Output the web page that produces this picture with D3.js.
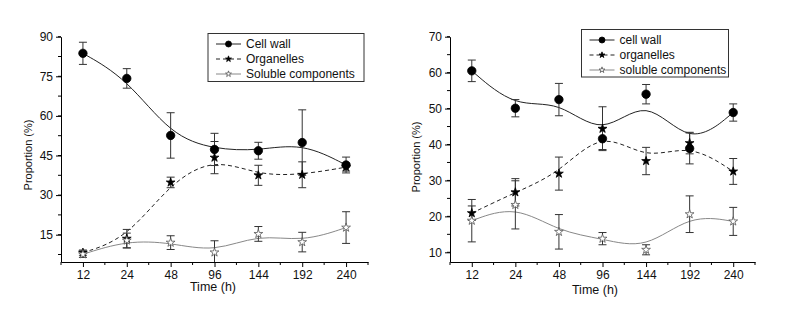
<!DOCTYPE html>
<html>
<head>
<meta charset="utf-8">
<script src="https://cdn.jsdelivr.net/npm/d3@7"></script>
<style>
  body { margin: 0; background: #fff; }
  text { font-family: "Liberation Sans", Arial, sans-serif; fill: #111; }
</style>
</head>
<body>
<div class="container"></div>
<script>
// Time points (categorical x axis)
const times = ["12", "24", "48", "96", "144", "192", "240"];

// Left panel
const leftCellWall     = [83.7, 74.2, 52.6, 47.3, 46.8, 49.9, 41.4];
const leftCellWallErr  = [4.2, 3.7, 8.6, 6.1, 3.2, 12.4, 3.0];
const leftOrganelles   = [8.2, 13.5, 34.8, 44.2, 37.5, 37.7, 40.6];
const leftOrganellesErr= [1.0, 3.5, 2.0, 6.1, 3.8, 4.9, 1.5];
const leftSoluble      = [7.6, 12.8, 12.0, 8.3, 15.3, 12.2, 17.7];
const leftSolubleErr   = [1.2, 2.8, 2.6, 4.4, 2.8, 3.7, 6.0];
const leftYTicks = [15, 30, 45, 60, 75, 90];
const leftLegend = ["Cell wall", "Organelles", "Soluble components"];

// Right panel
const rightCellWall     = [60.5, 50.1, 52.5, 41.6, 54.0, 38.9, 48.9];
const rightCellWallErr  = [3.0, 2.4, 4.5, 3.0, 2.7, 4.3, 2.4];
const rightOrganelles   = [20.9, 26.7, 31.9, 44.4, 35.4, 40.4, 32.5];
const rightOrganellesErr= [2.0, 3.8, 4.6, 6.1, 3.8, 3.0, 3.6];
const rightSoluble      = [18.8, 23.2, 15.7, 13.8, 10.7, 20.6, 18.6];
const rightSolubleErr   = [5.9, 6.7, 4.8, 1.7, 1.4, 5.1, 3.9];
const rightYTicks = [10, 20, 30, 40, 50, 60, 70];
const rightLegend = ["cell wall", "organelles", "soluble components"];

const width = 785, height = 314;

const svg = d3.select(".container")
    .append("svg")
    .attr("width", width)
    .attr("height", height);

const styles = [
    {line: "#222", dash: null, marker: "circle", fill: "#000", stroke: "#000"},
    {line: "#222", dash: "4,3", marker: "star", fill: "#000", stroke: "#000"},
    {line: "#888", dash: null, marker: "star", fill: "#fff", stroke: "#555"}
];

function marker(g, type, x, y, big, st) {
    if (type === "circle") {
        g.append("circle").attr("cx", x).attr("cy", y).attr("r", big ? 4.2 : 3)
            .attr("fill", st.fill).attr("stroke", st.stroke).attr("stroke-width", 0.8);
    } else {
        g.append("path")
            .attr("d", d3.symbol().type(d3.symbolStar).size(big ? 24 : 11)())
            .attr("transform", `translate(${x},${y})`)
            .attr("fill", st.fill).attr("stroke", st.stroke).attr("stroke-width", 0.8);
    }
}

function drawPanel(p) {
    const x = d3.scalePoint().domain(times).range(p.xRange).padding(0.5);
    const y = d3.scaleLinear().domain(p.yDomain).range([262, 36.7]);
    const step = x.step();

    const g = svg.append("g");

    // x axis
    g.append("g")
        .attr("transform", "translate(0,262)")
        .call(d3.axisBottom(x).tickSize(5).tickSizeOuter(0))
        .call(a => a.select(".domain").attr("stroke", "#000"))
        .call(a => a.selectAll("text").attr("font-size", 12).attr("fill", "#111"));
    const minorX = d3.range(0, times.length + 1).map(k => p.xRange[0] + k * step);
    g.append("g").selectAll("line").data(minorX).enter().append("line")
        .attr("x1", d => d).attr("x2", d => d).attr("y1", 262).attr("y2", 265)
        .attr("stroke", "#000");

    // y axis
    g.append("g")
        .attr("transform", `translate(${p.xRange[0]},0)`)
        .call(d3.axisLeft(y).tickValues(p.yTicks).tickSize(5).tickSizeOuter(0))
        .call(a => a.select(".domain").attr("stroke", "#000"))
        .call(a => a.selectAll("text").attr("font-size", 12).attr("fill", "#111"));
    const t = p.yTicks;
    const half = (t[1] - t[0]) / 2;
    const minorY = d3.range(t[0] - half, p.yDomain[1] + 0.01, half).filter(v => v >= p.yDomain[0]);
    g.append("g").selectAll("line").data(minorY).enter().append("line")
        .attr("x1", p.xRange[0] - 3).attr("x2", p.xRange[0])
        .attr("y1", d => y(d)).attr("y2", d => y(d))
        .attr("stroke", "#000");

    // axis titles
    g.append("text")
        .attr("transform", `translate(${p.yTitle[0]},${p.yTitle[1]}) rotate(-90)`)
        .attr("text-anchor", "middle").attr("dominant-baseline", "central")
        .attr("font-size", 11).text("Proportion (%)");
    g.append("text")
        .attr("x", p.xTitle[0]).attr("y", p.xTitle[1])
        .attr("text-anchor", "middle").attr("font-size", 12.5).text("Time (h)");

    // curves
    const line = d3.line().x((d, i) => x(times[i])).y(d => y(d)).curve(d3.curveBasis);
    p.series.forEach((s, k) => {
        g.append("path").datum(s.values)
            .attr("d", line).attr("fill", "none")
            .attr("stroke", styles[k].line).attr("stroke-width", 1)
            .attr("stroke-dasharray", styles[k].dash);
    });

    // error bars
    p.series.forEach(s => {
        s.values.forEach((v, i) => {
            const cx = x(times[i]);
            const lo = v - s.err[i], hi = v + s.err[i];
            const loC = Math.max(lo, p.yDomain[0]);
            g.append("line").attr("x1", cx).attr("x2", cx)
                .attr("y1", y(loC)).attr("y2", y(hi)).attr("stroke", "#333");
            g.append("line").attr("x1", cx - 4).attr("x2", cx + 4)
                .attr("y1", y(hi)).attr("y2", y(hi)).attr("stroke", "#333");
            if (lo >= p.yDomain[0]) {
                g.append("line").attr("x1", cx - 4).attr("x2", cx + 4)
                    .attr("y1", y(lo)).attr("y2", y(lo)).attr("stroke", "#333");
            }
        });
    });

    // markers
    p.series.forEach((s, k) => {
        s.values.forEach((v, i) => marker(g, styles[k].marker, x(times[i]), y(v), true, styles[k]));
    });

    // legend
    const L = p.legend;
    const lg = g.append("g");
    lg.append("rect").attr("x", L.x).attr("y", L.y).attr("width", L.w).attr("height", L.h)
        .attr("fill", "#fff").attr("stroke", "#333").attr("stroke-width", 1);
    p.labels.forEach((lab, k) => {
        const ly = L.y + 10.5 + k * 15;
        lg.append("line").attr("x1", L.x + 8).attr("x2", L.x + 33)
            .attr("y1", ly).attr("y2", ly)
            .attr("stroke", styles[k].line).attr("stroke-dasharray", styles[k].dash);
        marker(lg, styles[k].marker, L.x + 20.5, ly, false, styles[k]);
        lg.append("text").attr("x", L.x + 38).attr("y", ly)
            .attr("dominant-baseline", "central").attr("font-size", 12).text(lab);
    });
}

drawPanel({
    xRange: [61, 368],
    yDomain: [4.66, 90],
    yTicks: leftYTicks,
    yTitle: [28, 155],
    xTitle: [213, 291],
    series: [
        {values: leftCellWall, err: leftCellWallErr},
        {values: leftOrganelles, err: leftOrganellesErr},
        {values: leftSoluble, err: leftSolubleErr}
    ],
    labels: leftLegend,
    legend: {x: 208, y: 33.5, w: 156, h: 48}
});

drawPanel({
    xRange: [450, 755],
    yDomain: [7.3, 70],
    yTicks: rightYTicks,
    yTitle: [416, 157],
    xTitle: [595, 294],
    series: [
        {values: rightCellWall, err: rightCellWallErr},
        {values: rightOrganelles, err: rightOrganellesErr},
        {values: rightSoluble, err: rightSolubleErr}
    ],
    labels: rightLegend,
    legend: {x: 581.5, y: 29.5, w: 147, h: 47.5}
});
</script>
</body>
</html>
